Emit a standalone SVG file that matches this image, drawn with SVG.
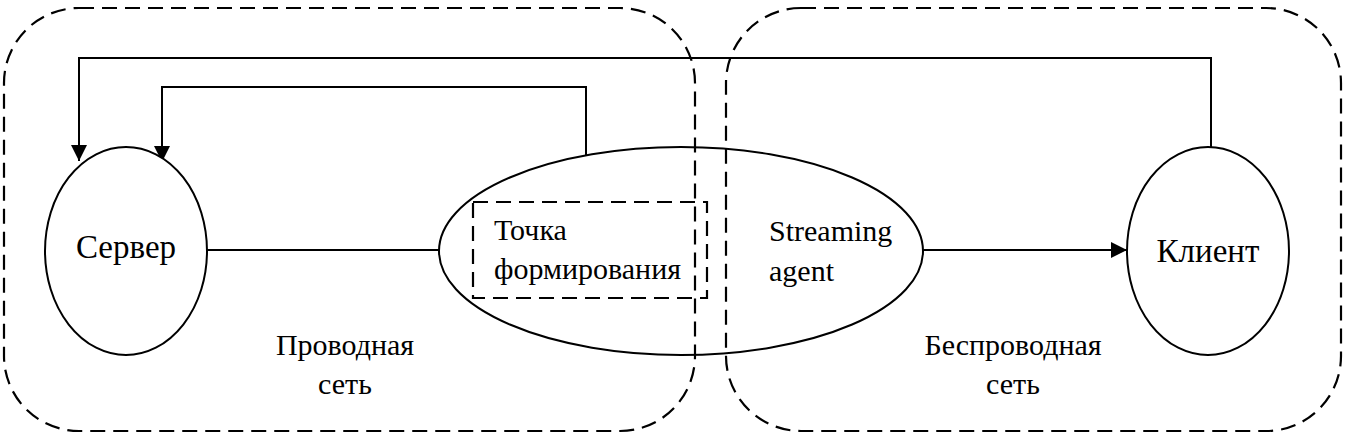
<svg xmlns="http://www.w3.org/2000/svg" width="1351" height="439" viewBox="0 0 1351 439">
<style>
.dash{fill:none;stroke:#000;stroke-width:2.2;stroke-dasharray:15 8}
.node{fill:#fff;stroke:#000;stroke-width:2}
.ln{fill:none;stroke:#000;stroke-width:2}
text{font-family:"Liberation Serif","Times New Roman",serif;fill:#000}
.big{font-size:33px}
.mid{font-size:30px}
</style>
<defs>
<marker id="a" viewBox="0 0 16 16" refX="16" refY="8" markerWidth="16" markerHeight="16" markerUnits="userSpaceOnUse" orient="auto">
<path d="M0,0 L16,8 L0,16 z" fill="#000"/>
</marker>
</defs>
<g id="connectors">
<path class="ln" d="M207,250 L439,250"/>
<path class="ln" d="M923,250 L1127,250" marker-end="url(#a)"/>
<path class="ln" d="M1211,147 L1211,58 L79,58 L79,161" marker-end="url(#a)"/>
<path class="ln" d="M586,155 L586,87 L162,87 L162,162" marker-end="url(#a)"/>
</g>
<g id="server">
<ellipse class="node" cx="126" cy="251" rx="81" ry="104"/>
<text class="big" x="126" y="258" text-anchor="middle">Сервер</text>
</g>
<g id="agent">
<ellipse class="node" cx="681" cy="251" rx="242" ry="104"/>
<text class="mid" x="769" y="241">Streaming</text>
<text class="mid" x="769" y="281">agent</text>
</g>
<g id="point">
<rect class="dash" x="473" y="202" width="234" height="96"/>
<text class="mid" x="494" y="240">Точка</text>
<text class="mid" x="494" y="279">формирования</text>
</g>
<g id="client">
<ellipse class="node" cx="1208" cy="251" rx="81" ry="104"/>
<text class="big" x="1208" y="262" text-anchor="middle">Клиент</text>
</g>
<g id="wired">
<rect class="dash" x="4" y="8" width="691" height="423" rx="75" ry="75"/>
<text class="mid" x="345" y="355" text-anchor="middle">Проводная</text>
<text class="mid" x="345" y="394" text-anchor="middle">сеть</text>
</g>
<g id="wireless">
<rect class="dash" x="726" y="8" width="615" height="423" rx="75" ry="75"/>
<text class="mid" x="1013" y="355" text-anchor="middle">Беспроводная</text>
<text class="mid" x="1013" y="394" text-anchor="middle">сеть</text>
</g>
</svg>
